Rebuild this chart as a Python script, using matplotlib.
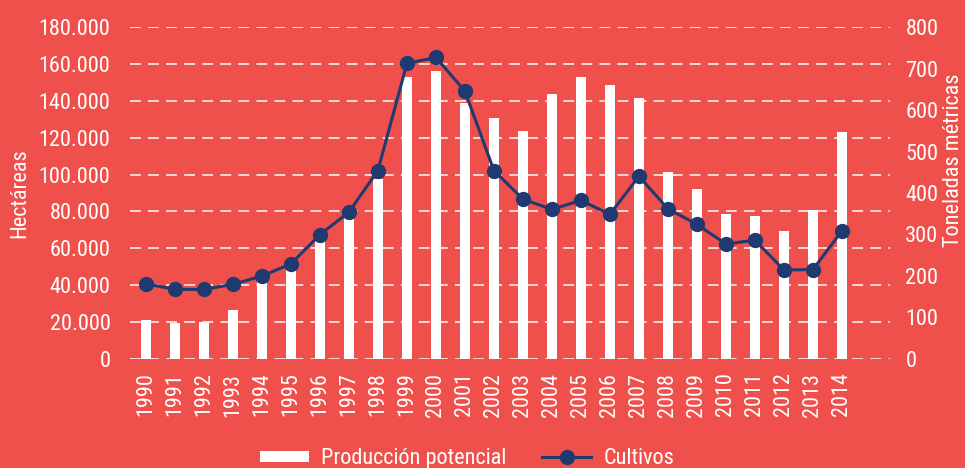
import matplotlib
matplotlib.use("Agg")
import matplotlib.pyplot as plt
from matplotlib import font_manager
from matplotlib.patches import Patch
from matplotlib.lines import Line2D
from matplotlib.ticker import FuncFormatter

BG = "#F0504B"
NAVY = "#1E3A70"

# condensed face close to the original, first one that is installed
installed = {f.name for f in font_manager.fontManager.ttflist}
wanted = ["Roboto Condensed", "Liberation Sans Narrow", "Archivo Narrow",
          "Fira Sans Condensed", "IBM Plex Sans Condensed"]
picked = [n for n in wanted if n in installed][:1]
plt.rcParams["font.family"] = picked + ["DejaVu Sans"]

years = list(range(1990, 2015))
# Producción potencial (toneladas métricas), right axis
produccion = [93, 87, 89, 118, 201, 230, 300, 350, 435, 680, 695, 617, 580,
              550, 640, 680, 660, 630, 450, 410, 350, 345, 309, 358, 547]
# Cultivos (hectáreas), left axis
cultivos = [40600, 37700, 37600, 40400, 44900, 51500, 67400, 79600, 102200,
            160400, 163600, 145300, 102200, 86700, 81100, 86000, 78400, 99100,
            81400, 73000, 62300, 64400, 48200, 48400, 69400]
left_ticks = list(range(0, 180001, 20000))
right_ticks = list(range(0, 801, 100))

fig = plt.figure(figsize=(9.65, 4.68), dpi=100, facecolor=BG)
ax = fig.add_axes([0.1347, 0.2335, 0.7876, 0.7082])
ax2 = ax.twinx()

x = list(range(len(years)))
ax2.bar(x, produccion, width=0.35, color="white", zorder=2)
ax.plot(x, cultivos, color=NAVY, lw=2.2, marker="o", markersize=10, zorder=3)

ax.set_zorder(ax2.get_zorder() + 1)
ax.patch.set_visible(False)
ax2.set_facecolor(BG)

ax.set_xlim(-0.55, 25.66)
ax.set_ylim(0, 180000)
ax2.set_ylim(0, 800)
ax.set_yticks(left_ticks)
ax2.set_yticks(right_ticks)
ax.yaxis.set_major_formatter(FuncFormatter(lambda v, p: f"{int(v):,}".replace(",", ".")))
ax.set_xticks(x)
ax.set_xticklabels([str(y) for y in years], rotation=90)

for a in (ax, ax2):
    for s in a.spines.values():
        s.set_visible(False)
    a.tick_params(colors="white", labelsize=16, length=0)
ax.tick_params(axis="y", pad=14)
ax2.tick_params(axis="y", pad=11)
ax.tick_params(axis="x", pad=10)

for t in left_ticks:
    ax2.axhline(t / 180000 * 800, color="white", lw=1.3, ls=(0, (6, 4)),
                alpha=0.85, zorder=1)

ax.set_ylabel("Hectáreas", color="white", fontsize=16)
ax2.set_ylabel("Toneladas métricas", color="white", fontsize=16)
ax.yaxis.set_label_coords(-0.1316, 0.5)
ax2.yaxis.set_label_coords(1.07, 0.60)

handles = [Patch(facecolor="white", edgecolor="none"),
           Line2D([], [], color=NAVY, lw=2.2, marker="o", markersize=10)]
fig.legend(handles, ["Producción potencial", "Cultivos"], loc="lower center",
           bbox_to_anchor=(0.484, -0.045), ncol=2, frameon=False, fontsize=16,
           labelcolor="white", handlelength=2.2, handleheight=0.4,
           handletextpad=0.55, columnspacing=1.6)

fig.savefig("out.png", dpi=100, facecolor=BG)
